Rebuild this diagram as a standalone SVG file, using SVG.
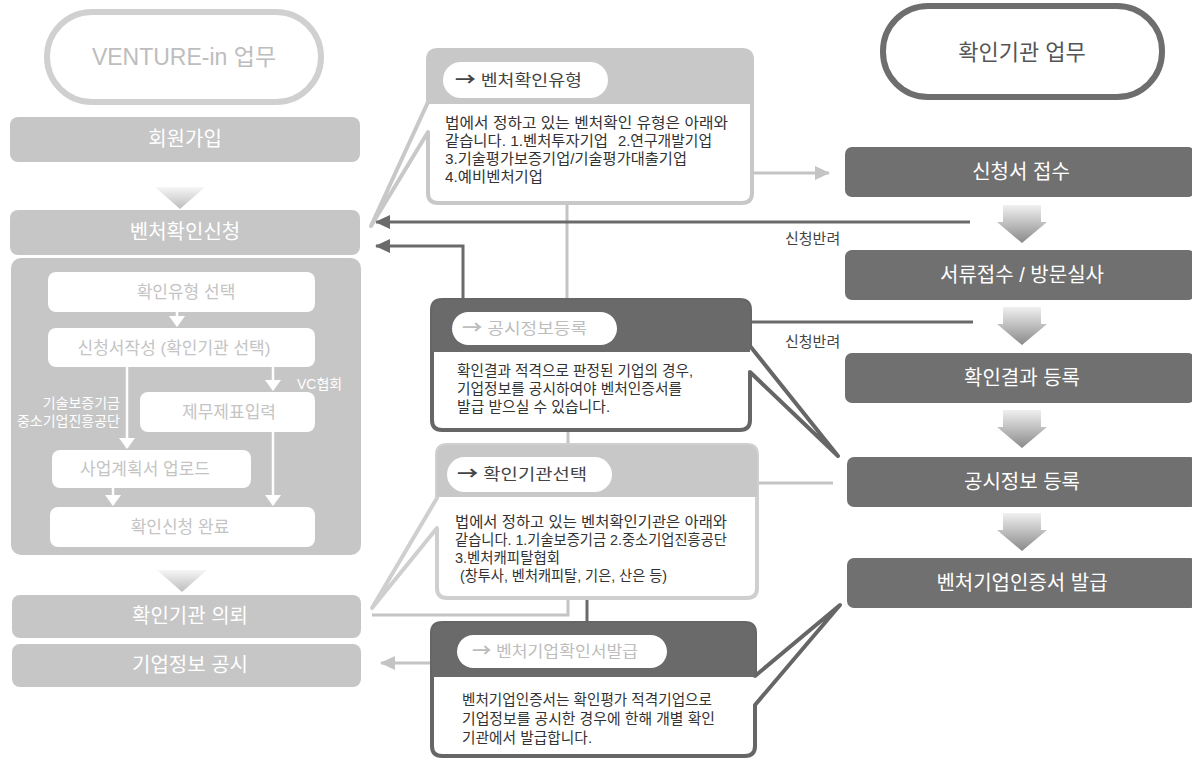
<svg xmlns="http://www.w3.org/2000/svg" width="1192" height="759" viewBox="0 0 1192 759">
<style>
text{font-family:"Liberation Sans","Noto Sans CJK KR",sans-serif}
.lbox{fill:#c6c6c6}
.ltxt{fill:#ffffff;font-size:20px;text-anchor:middle}
.wbox{fill:#ffffff}
.wtxt{fill:#c4c4c4;font-size:17px;text-anchor:middle}
.note{fill:#ffffff;font-size:14px}
.rbox{fill:#707070}
.rtxt{fill:#ffffff;font-size:20px;text-anchor:middle}
.body{fill:#333333;font-size:15px}
.pill{fill:#ffffff}
.ptd{fill:#444444;font-size:16px}
.ptl{fill:#bdbdbd;font-size:16px}
.arr{font-family:"Noto Sans CJK KR",sans-serif;font-weight:bold;font-size:18px}
.lt{stroke:#c4c4c4;stroke-width:3;fill:none}
.dk{stroke:#6a6a6a;stroke-width:3;fill:none}
.wl{stroke:#ffffff;stroke-width:2.5;fill:none}
.lab{fill:#444444;font-size:15px}
</style>
<defs>
<marker id="mDark" markerUnits="userSpaceOnUse" markerWidth="15" markerHeight="14" refX="14" refY="7" orient="auto"><path d="M0,0 L15,7 L0,14 z" fill="#6a6a6a"/></marker>
<marker id="mLight" markerUnits="userSpaceOnUse" markerWidth="15" markerHeight="14" refX="14" refY="7" orient="auto"><path d="M0,0 L15,7 L0,14 z" fill="#c4c4c4"/></marker>
<marker id="mWhite" markerUnits="userSpaceOnUse" markerWidth="11" markerHeight="16" refX="10" refY="8" orient="auto"><path d="M0,0 L11,8 L0,16 z" fill="#ffffff"/></marker>
<linearGradient id="gR" x1="0" y1="0" x2="0" y2="1"><stop offset="0" stop-color="#f0f0f0"/><stop offset="1" stop-color="#8a8a8a"/></linearGradient>
<linearGradient id="gL" x1="0" y1="0" x2="0" y2="1"><stop offset="0" stop-color="#f6f6f6"/><stop offset="1" stop-color="#bdbdbd"/></linearGradient>
<path id="bArrow" d="M6,0 H44 V17 H50 L25,38 L0,17 H6 Z" fill="url(#gR)"/>
<path id="tri" d="M0,0 H50 L25,22 Z" fill="url(#gL)"/>
</defs>
<rect width="1192" height="759" fill="#ffffff"/>

<!-- Left column -->
<g id="venture-title">
<rect x="47" y="12" width="274" height="90" rx="45" fill="#ffffff" stroke="#d0d0d0" stroke-width="6"/>
<text x="184" y="65" fill="#bdbdbd" font-size="23" text-anchor="middle">VENTURE-in 업무</text>
</g>
<g id="join">
<rect class="lbox" x="10" y="117" width="350" height="45" rx="8"/>
<text class="ltxt" x="185" y="146">회원가입</text>
</g>
<use href="#tri" x="155" y="187"/>
<g id="apply">
<rect class="lbox" x="10" y="210" width="350" height="45" rx="8"/>
<text class="ltxt" x="185" y="239">벤처확인신청</text>
</g>
<g id="apply-steps">
<rect class="lbox" x="11" y="258" width="350" height="297" rx="10"/>
</g>
<g id="step-type">
<rect class="wbox" x="48" y="272" width="267" height="40" rx="8"/>
<text class="wtxt" x="186" y="298">확인유형 선택</text>
</g>
<g id="step-form">
<rect class="wbox" x="48" y="328" width="267" height="39" rx="8"/>
<text class="wtxt" x="174" y="354">신청서작성 (확인기관 선택)</text>
</g>
<g id="step-fin">
<rect class="wbox" x="140" y="392" width="175" height="40" rx="8"/>
<text class="wtxt" x="229" y="418">제무제표입력</text>
</g>
<g id="step-plan">
<rect class="wbox" x="52" y="450" width="199" height="38" rx="8"/>
<text class="wtxt" x="145" y="475">사업계획서 업로드</text>
</g>
<g id="step-done">
<rect class="wbox" x="50" y="507" width="265" height="40" rx="8"/>
<text class="wtxt" x="180" y="533">확인신청 완료</text>
</g>
<g id="inner-labels">
<text class="note" x="297" y="389">VC협회</text>
<text class="note" text-anchor="end"><tspan x="120" y="408">기술보증기금</tspan><tspan x="120" y="426">중소기업진흥공단</tspan></text>
</g>
<use href="#tri" x="157" y="570"/>
<g id="request">
<rect class="lbox" x="12" y="595" width="349" height="43" rx="8"/>
<text class="ltxt" x="190" y="623">확인기관 의뢰</text>
</g>
<g id="publish">
<rect class="lbox" x="12" y="644" width="349" height="43" rx="8"/>
<text class="ltxt" x="190" y="672">기업정보 공시</text>
</g>

<!-- Right column -->
<g id="agency-title">
<rect x="883" y="6" width="279" height="91" rx="45" fill="#ffffff" stroke="#6e6e6e" stroke-width="6"/>
<text x="1022" y="60" fill="#555555" font-size="22" text-anchor="middle">확인기관 업무</text>
</g>
<g id="receive">
<rect class="rbox" x="845" y="147" width="350" height="50" rx="7"/>
<text class="rtxt" x="1021" y="179">신청서 접수</text>
</g>
<use href="#bArrow" x="997" y="205"/>
<g id="review">
<rect class="rbox" x="845" y="250" width="350" height="50" rx="7"/>
<text class="rtxt" x="1022" y="282">서류접수 / 방문실사</text>
</g>
<use href="#bArrow" x="997" y="307"/>
<g id="result">
<rect class="rbox" x="845" y="353" width="350" height="50" rx="7"/>
<text class="rtxt" x="1022" y="385">확인결과 등록</text>
</g>
<use href="#bArrow" x="997" y="410"/>
<g id="disclose">
<rect class="rbox" x="847" y="457" width="350" height="50" rx="7"/>
<text class="rtxt" x="1022" y="489">공시정보 등록</text>
</g>
<use href="#bArrow" x="997" y="513"/>
<g id="issue">
<rect class="rbox" x="847" y="558" width="350" height="50" rx="7"/>
<text class="rtxt" x="1022" y="590">벤처기업인증서 발급</text>
</g>

<!-- Connectors -->
<g id="connectors">
<line class="lt" x1="567" y1="203" x2="567" y2="300"/>
<line class="lt" x1="568" y1="430" x2="568" y2="445"/>
<polyline class="lt" points="568,598 568,615 372,615"/>
<line class="dk" x1="587" y1="598" x2="587" y2="623"/>
<line class="lt" x1="754" y1="173" x2="829" y2="173" marker-end="url(#mLight)"/>
<line class="dk" x1="970" y1="222" x2="376" y2="222" marker-end="url(#mDark)"/>
<polyline class="dk" points="463,300 463,246 376,246" marker-end="url(#mDark)"/>
<line class="dk" x1="750" y1="322" x2="973" y2="322"/>
<line class="lt" x1="757" y1="483" x2="833" y2="483"/>
<line class="lt" x1="432" y1="663" x2="381" y2="663" marker-end="url(#mLight)"/>
<line class="wl" x1="177" y1="312" x2="177" y2="326" marker-end="url(#mWhite)"/>
<line class="wl" x1="127" y1="367" x2="127" y2="448" marker-end="url(#mWhite)"/>
<line class="wl" x1="273" y1="367" x2="273" y2="390" marker-end="url(#mWhite)"/>
<line class="wl" x1="113" y1="488" x2="113" y2="505" marker-end="url(#mWhite)"/>
<line class="wl" x1="273" y1="432" x2="273" y2="505" marker-end="url(#mWhite)"/>
<text class="lab" x="785" y="244">신청반려</text>
<text class="lab" x="785" y="347">신청반려</text>
</g>

<!-- Callout 1 -->
<g id="note-type">
<path d="M438,50 H742 Q752,50 752,60 V193 Q752,203 742,203 H438 Q428,203 428,193 V132 L371,226 L428,102 V60 Q428,50 438,50 Z" fill="#ffffff" stroke="#c8c8c8" stroke-width="4" stroke-linejoin="round"/>
<path d="M438,50 H742 Q752,50 752,60 V104 H428 V60 Q428,50 438,50 Z" fill="#c8c8c8"/>
<rect class="pill" x="443" y="62" width="165" height="36" rx="18"/>
<text class="ptd" x="455" y="86" textLength="127" lengthAdjust="spacingAndGlyphs"><tspan class="arr">→</tspan> 벤처확인유형</text>
<text class="body"><tspan x="445" y="128" textLength="283" lengthAdjust="spacingAndGlyphs">법에서 정하고 있는 벤처확인 유형은 아래와</tspan><tspan x="445" y="146" textLength="163" lengthAdjust="spacingAndGlyphs">같습니다. 1.벤처투자기업</tspan><tspan x="618" y="146" textLength="94" lengthAdjust="spacingAndGlyphs">2.연구개발기업</tspan><tspan x="445" y="164" textLength="242" lengthAdjust="spacingAndGlyphs">3.기술평가보증기업/기술평가대출기업</tspan><tspan x="445" y="182" textLength="98" lengthAdjust="spacingAndGlyphs">4.예비벤처기업</tspan></text>
</g>

<!-- Callout 2 -->
<g id="note-disclose">
<path d="M442,300 H740 Q750,300 750,310 V346 L838,456 L750,372 V420 Q750,430 740,430 H442 Q432,430 432,420 V310 Q432,300 442,300 Z" fill="#ffffff" stroke="#666666" stroke-width="4" stroke-linejoin="round"/>
<path d="M442,300 H740 Q750,300 750,310 V352 H432 V310 Q432,300 442,300 Z" fill="#6a6a6a"/>
<rect class="pill" x="452" y="312" width="165" height="33" rx="16.5"/>
<text class="ptl" x="462" y="334" textLength="125" lengthAdjust="spacingAndGlyphs"><tspan class="arr">→</tspan> 공시정보등록</text>
<text class="body"><tspan x="457" y="376" textLength="236" lengthAdjust="spacingAndGlyphs">확인결과 적격으로 판정된 기업의 경우,</tspan><tspan x="457" y="394" textLength="225" lengthAdjust="spacingAndGlyphs">기업정보를 공시하여야 벤처인증서를</tspan><tspan x="457" y="412" textLength="153" lengthAdjust="spacingAndGlyphs">발급 받으실 수 있습니다.</tspan></text>
</g>

<!-- Callout 3 -->
<g id="note-agency">
<path d="M447,445 H747 Q757,445 757,455 V588 Q757,598 747,598 H447 Q437,598 437,588 V528 L372,608 L437,498 V455 Q437,445 447,445 Z" fill="#ffffff" stroke="#cfcfcf" stroke-width="4" stroke-linejoin="round"/>
<path d="M447,445 H747 Q757,445 757,455 V497 H437 V455 Q437,445 447,445 Z" fill="#c8c8c8"/>
<rect class="pill" x="447" y="457" width="165" height="35" rx="17.5"/>
<text class="ptd" x="457" y="480" textLength="130" lengthAdjust="spacingAndGlyphs"><tspan class="arr">→</tspan> 확인기관선택</text>
<text class="body"><tspan x="455" y="527" textLength="272" lengthAdjust="spacingAndGlyphs">법에서 정하고 있는 벤처확인기관은 아래와</tspan><tspan x="455" y="545" textLength="272" lengthAdjust="spacingAndGlyphs">같습니다. 1.기술보증기금 2.중소기업진흥공단</tspan><tspan x="455" y="563" textLength="105" lengthAdjust="spacingAndGlyphs">3.벤처캐피탈협회</tspan><tspan x="460" y="581" textLength="207" lengthAdjust="spacingAndGlyphs">(창투사, 벤처캐피탈, 기은, 산은 등)</tspan></text>
</g>

<!-- Callout 4 -->
<g id="note-issue">
<path d="M442,623 H745 Q755,623 755,633 V676 L840,605 L755,705 V746 Q755,756 745,756 H442 Q432,756 432,746 V633 Q432,623 442,623 Z" fill="#ffffff" stroke="#666666" stroke-width="4" stroke-linejoin="round"/>
<path d="M442,623 H745 Q755,623 755,633 V677 H432 V633 Q432,623 442,623 Z" fill="#6a6a6a"/>
<rect class="pill" x="457" y="635" width="210" height="33" rx="16.5"/>
<text class="ptl" x="472" y="657" textLength="166" lengthAdjust="spacingAndGlyphs"><tspan class="arr">→</tspan> 벤처기업확인서발급</text>
<text class="body"><tspan x="462" y="705" textLength="250" lengthAdjust="spacingAndGlyphs">벤처기업인증서는 확인평가 적격기업으로</tspan><tspan x="462" y="724" textLength="253" lengthAdjust="spacingAndGlyphs">기업정보를 공시한 경우에 한해 개별 확인</tspan><tspan x="462" y="743" textLength="130" lengthAdjust="spacingAndGlyphs">기관에서 발급합니다.</tspan></text>
</g>
</svg>
